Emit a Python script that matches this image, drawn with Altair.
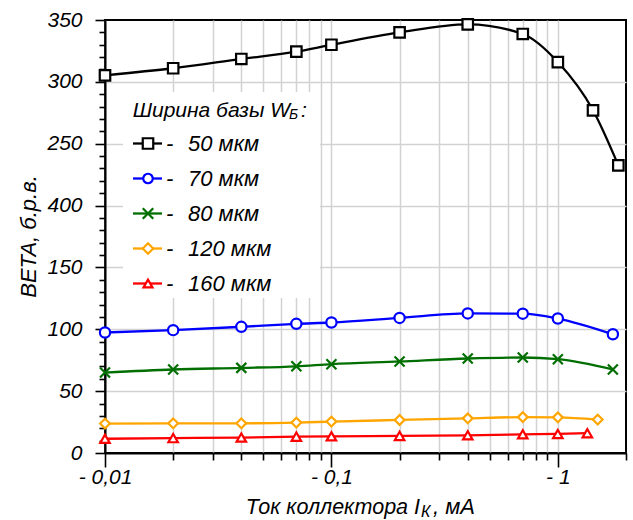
import altair as alt
import pandas as pd

# ---------------- data ----------------
series_names = ["50 мкм", "70 мкм", "80 мкм", "120 мкм", "160 мкм"]

ik_50 = [0.01, 0.02, 0.04, 0.07, 0.1, 0.2, 0.4, 0.7, 1.0, 1.43, 1.85]
beta_50 = [305.3, 311.0, 318.5, 324.4, 330.0, 340.0, 346.5, 338.7, 316.0, 277.0, 232.5]

ik_70 = [0.01, 0.02, 0.04, 0.07, 0.1, 0.2, 0.4, 0.7, 1.0, 1.75]
beta_70 = [97.4, 99.3, 102.0, 104.4, 105.5, 109.2, 112.8, 112.6, 108.7, 96.0]

ik_80 = [0.01, 0.02, 0.04, 0.07, 0.1, 0.2, 0.4, 0.7, 1.0, 1.75]
beta_80 = [65.0, 67.5, 68.8, 70.1, 71.8, 74.0, 76.4, 77.2, 75.8, 67.5]

ik_120 = [0.01, 0.02, 0.04, 0.07, 0.1, 0.2, 0.4, 0.7, 1.0, 1.5]
beta_120 = [23.8, 24.0, 24.0, 24.6, 25.4, 26.7, 28.0, 29.0, 28.8, 27.0]

ik_160 = [0.01, 0.02, 0.04, 0.07, 0.1, 0.2, 0.4, 0.7, 1.0, 1.35]
beta_160 = [11.5, 12.0, 12.5, 13.2, 13.5, 13.8, 14.3, 15.1, 15.4, 16.0]

x_major = [0.01, 0.1, 1]
x_major_labels = ["- 0,01", "- 0,1", "- 1"]
y_major = [0, 50, 100, 150, 200, 250, 300, 350]
y_major_labels = ["0", "50", "100", "150", "400", "250", "300", "350"]

legend_title = "Ширина базы W"
legend_title_sub = "Б"
y_title = "BETA, б.р.в."
x_title_main = "Ток коллектора I"
x_title_sub = "К"
x_title_tail = ",  мА"

# ---------------- styles ----------------
colors = ["#000000", "#0000ff", "#006e00", "#ffa500", "#ff0000"]
shapes = ["square", "circle", "M-1,-1L1,1M-1,1L1,-1", "diamond", "triangle-up"]
sizes = [110, 90, 110, 110, 80]
FONT = "Liberation Sans"

rows = []
for name, xs, ys in zip(series_names,
                        [ik_50, ik_70, ik_80, ik_120, ik_160],
                        [beta_50, beta_70, beta_80, beta_120, beta_160]):
    for xv, yv in zip(xs, ys):
        rows.append({"series": name, "ik": xv, "beta": yv})
df = pd.DataFrame(rows)

W, H = 521, 433

x_ticks = [m * 10 ** e for e in (-2, -1) for m in range(1, 10)] + [1, 2]
y_ticks = list(range(0, 351, 10))

x_label_expr = " : ".join(
    f"datum.value == {v} ? '{lab}'" for v, lab in zip(x_major, x_major_labels)
) + " : ''"
y_label_expr = " : ".join(
    f"datum.value == {v} ? '{lab}'" for v, lab in zip(y_major, y_major_labels)
) + " : ''"
x_major_test = " || ".join(f"datum.value == {v}" for v in x_major)

x_enc = alt.X(
    "ik:Q",
    scale=alt.Scale(type="log", domain=[0.01, 2], nice=False),
    axis=alt.Axis(
        values=x_ticks,
        labelExpr=x_label_expr,
        title=None,
        tickSize={"condition": {"test": x_major_test, "value": 14}, "value": 7},
        gridOpacity={"condition": {"test": "datum.value <= 1", "value": 1}, "value": 0},
        labelPadding=-1,
        labelFlush=False,
        labelOverlap=False,
    ),
)
y_enc = alt.Y(
    "beta:Q",
    scale=alt.Scale(domain=[0, 350], nice=False, zero=False),
    axis=alt.Axis(
        values=y_ticks,
        labelExpr=y_label_expr,
        title=None,
        tickSize={"condition": {"test": "datum.value % 50 == 0", "value": 10}, "value": 6},
        gridOpacity={"condition": {"test": "datum.value % 50 == 0 && datum.value > 0 && datum.value < 350",
                                   "value": 1}, "value": 0},
        labelPadding=13,
        labelFlush=False,
        labelOverlap=False,
    ),
)

base = alt.Chart(df)
lines = base.mark_line(interpolate="monotone", strokeWidth=2.3).encode(
    x=x_enc, y=y_enc,
    color=alt.Color("series:N", scale=alt.Scale(domain=series_names, range=colors), legend=None),
    detail="series:N",
)
points = base.mark_point(filled=True, fill="white", fillOpacity=1, strokeWidth=2.2, opacity=1).encode(
    x=x_enc, y=y_enc,
    stroke=alt.Stroke("series:N", scale=alt.Scale(domain=series_names, range=colors), legend=None),
    shape=alt.Shape("series:N", scale=alt.Scale(domain=series_names, range=shapes), legend=None),
    size=alt.Size("series:N", scale=alt.Scale(domain=series_names, range=sizes), legend=None),
)

one = pd.DataFrame({"a": [0]})
layers = [lines, points]

# legend box
layers.append(alt.Chart(one).mark_rect(color="white").encode(
    x=alt.value(18), x2=alt.value(215), y=alt.value(72), y2=alt.value(278)))
layers.append(alt.Chart(one).mark_text(text=legend_title, align="right", baseline="alphabetic",
                                       font=FONT, fontStyle="italic", fontSize=21, color="black").encode(
    x=alt.value(185), y=alt.value(96.5)))
layers.append(alt.Chart(one).mark_text(text=legend_title_sub, align="left", baseline="alphabetic",
                                       font=FONT, fontStyle="italic", fontSize=14, color="black").encode(
    x=alt.value(184), y=alt.value(98.5)))
layers.append(alt.Chart(one).mark_text(text=":", align="left", baseline="alphabetic",
                                       font=FONT, fontStyle="italic", fontSize=21, color="black").encode(
    x=alt.value(196), y=alt.value(96.5)))

for i, name in enumerate(series_names):
    yc = 123.5 + 35 * i
    layers.append(alt.Chart(one).mark_rule(color=colors[i], strokeWidth=2.3).encode(
        x=alt.value(28), x2=alt.value(57), y=alt.value(yc)))
    layers.append(alt.Chart(one).mark_point(shape=shapes[i], size=sizes[i], filled=True, fill="white",
                                            stroke=colors[i], strokeWidth=2.2, opacity=1).encode(
        x=alt.value(43), y=alt.value(yc)))
    layers.append(alt.Chart(one).mark_text(text="-", align="left", baseline="alphabetic",
                                           font=FONT, fontStyle="italic", fontSize=22, color="black").encode(
        x=alt.value(61), y=alt.value(yc + 7.5)))
    layers.append(alt.Chart(one).mark_text(text=name, align="left", baseline="alphabetic",
                                           font=FONT, fontStyle="italic", fontSize=22, color="black").encode(
        x=alt.value(83), y=alt.value(yc + 7.5)))

# axis titles
layers.append(alt.Chart(one).mark_text(text=y_title, angle=270, align="center", baseline="alphabetic",
                                       font=FONT, fontStyle="italic", fontSize=22, color="black").encode(
    x=alt.value(-69), y=alt.value(H / 2)))
layers.append(alt.Chart(one).mark_text(text=x_title_main, align="right", baseline="alphabetic",
                                       font=FONT, fontStyle="italic", fontSize=21.5, color="black").encode(
    x=alt.value(315), y=alt.value(494)))
layers.append(alt.Chart(one).mark_text(text=x_title_sub, align="left", baseline="alphabetic",
                                       font=FONT, fontStyle="italic", fontSize=16, color="black").encode(
    x=alt.value(316), y=alt.value(497)))
layers.append(alt.Chart(one).mark_text(text=x_title_tail, align="left", baseline="alphabetic",
                                       font=FONT, fontStyle="italic", fontSize=22, color="black").encode(
    x=alt.value(328), y=alt.value(494)))

chart = alt.layer(*layers).properties(
    width=W, height=H,
    autosize=alt.AutoSizeParams(type="none"),
    padding={"left": 105, "top": 20, "right": 7, "bottom": 67},
    background="white",
).configure_view(
    stroke="black", strokeWidth=2,
).configure_axis(
    domainColor="black", domainWidth=2,
    tickColor="black", tickWidth=1.6,
    gridColor="#d2d2d2", gridWidth=1.5,
    labelFont=FONT, labelFontStyle="italic", labelFontSize=21, labelColor="black",
)

chart.save("out.html", embed_options={"renderer": "svg", "actions": False})
